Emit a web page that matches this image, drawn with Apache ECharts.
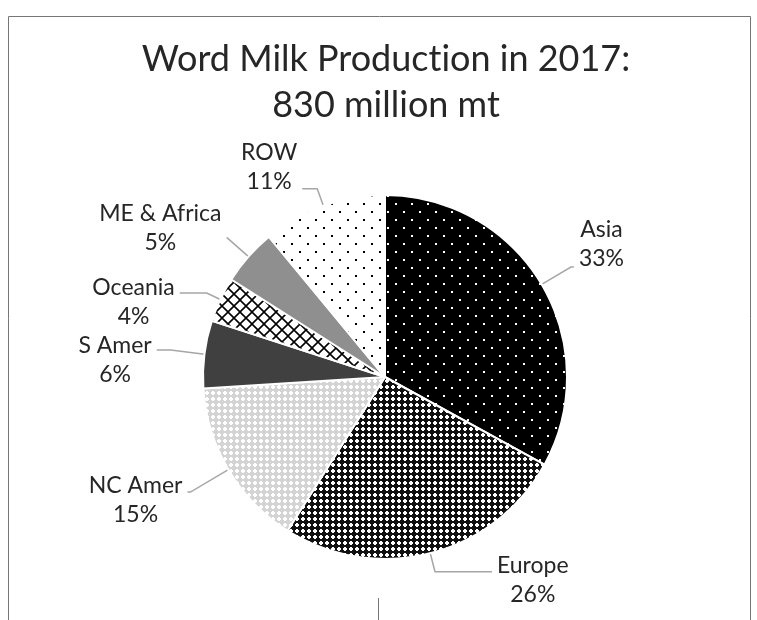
<!DOCTYPE html>
<html><head><meta charset="utf-8">
<script src="https://cdn.jsdelivr.net/npm/echarts@6/dist/echarts.min.js"></script>
<style>html,body{margin:0;padding:0;background:#fff}#c{width:757px;height:620px}</style>
</head><body><div id="c"></div>
<script>
const titleLines = ['Word Milk Production in 2017:', '830 million mt'];
const regions = ['Asia', 'Europe', 'NC Amer', 'S Amer', 'Oceania', 'ME & Africa', 'ROW'];
const shares = [33, 26, 15, 6, 4, 5, 11];

// leader-line styling per slice (first segment, horizontal segment, text shift)
const lineLen = [34, 19, 44, 34, 15, 28, 18];
const lineLen2 = [3, 57, 3, 14, 27, 1, 15];
const textShift = [-23, 8, 8, 10, 9, -10, -22];

// avoid font ligatures (e.g. "ti") in canvas text
(function () {
  const proto = CanvasRenderingContext2D.prototype;
  const orig = proto.fillText;
  proto.fillText = function () {
    try { this.textRendering = 'optimizeSpeed'; } catch (e) {}
    return orig.apply(this, arguments);
  };
})();

function makePattern(w, h, bg, fg, draw) {
  const c = document.createElement('canvas');
  c.width = w; c.height = h;
  const ctx = c.getContext('2d');
  ctx.fillStyle = bg; ctx.fillRect(0, 0, w, h);
  ctx.fillStyle = fg; ctx.strokeStyle = fg;
  draw(ctx);
  return { image: c, repeat: 'repeat' };
}
const dots = (ctx) => { ctx.fillRect(3, 3, 2, 2); ctx.fillRect(11, 11, 2, 2); };
const crosses = (ctx) => { ctx.fillRect(2, 1, 2, 4); ctx.fillRect(1, 2, 4, 2); };
const lattice = (ctx) => {
  ctx.lineWidth = 1.6;
  ctx.beginPath();
  ctx.moveTo(0, 0); ctx.lineTo(12, 12);
  ctx.moveTo(12, 0); ctx.lineTo(0, 12);
  ctx.stroke();
};
const fills = [
  makePattern(16, 16, '#000000', '#ffffff', dots),
  makePattern(6, 6, '#111111', '#ffffff', crosses),
  makePattern(6, 6, '#d4d4d4', '#ffffff', crosses),
  '#404040',
  makePattern(12, 12, '#ffffff', '#000000', lattice),
  '#8f8f8f',
  makePattern(16, 16, '#ffffff', '#000000', dots)
];

const chart = echarts.init(document.getElementById('c'), null, { renderer: 'canvas' });
const FONT = 'Lato';
chart.setOption({
  animation: false,
  backgroundColor: '#ffffff',
  graphic: [
    { type: 'rect', shape: { x: 8.5, y: 16.5, width: 742, height: 700 }, style: { fill: 'none', stroke: '#767676', lineWidth: 1 }, silent: true },
    { type: 'line', shape: { x1: 378.5, y1: 598, x2: 378.5, y2: 620 }, style: { stroke: '#767676', lineWidth: 1 }, silent: true },
    { type: 'text', x: 386, y: 36, style: { text: titleLines.join('\n'), textAlign: 'center', textVerticalAlign: 'top', fontFamily: FONT, fontSize: 36, lineHeight: 46, fill: '#262626' } }
  ],
  series: [{
    type: 'pie',
    center: [385, 377],
    radius: 182,
    startAngle: 90,
    clockwise: true,
    avoidLabelOverlap: false,
    data: regions.map((n, i) => ({
      name: n, value: shares[i],
      itemStyle: { color: fills[i] },
      labelLine: { length: lineLen[i], length2: lineLen2[i] }
    })),
    itemStyle: { borderColor: '#ffffff', borderWidth: 2 },
    label: {
      show: true, position: 'outside',
      formatter: (p) => p.name + '\n' + Math.round(p.percent) + '%',
      fontFamily: FONT, fontSize: 23, lineHeight: 29, color: '#262626'
    },
    labelLine: { show: true, length: 18, length2: 12, lineStyle: { color: '#a6a6a6', width: 1.5 } },
    labelLayout: function (params) {
      const r = params.labelRect;
      return {
        x: r.x + r.width / 2,
        y: r.y + r.height / 2 + textShift[params.dataIndex],
        align: 'center', verticalAlign: 'middle',
        labelLinePoints: params.labelLinePoints
      };
    },
    emphasis: { disabled: true }
  }]
});
</script></body></html>
